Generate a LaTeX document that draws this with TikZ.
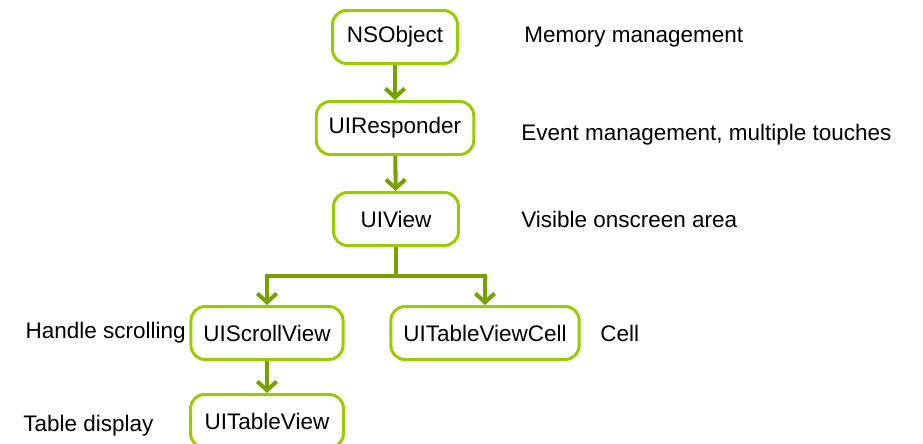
\documentclass[tikz,border=0pt]{standalone}
\usepackage{fontspec}
\setmainfont{Liberation Sans}
\usetikzlibrary{arrows.meta,positioning}

\definecolor{boxgreen}{HTML}{99CC00}
\definecolor{arrowgreen}{HTML}{77A000}

\tikzset{
	classbox/.style={draw=boxgreen, line width=1.7pt, rounded corners=8pt, fill=white,
		minimum width=2.5cm, minimum height=1.06cm, inner xsep=0.25cm},
	note/.style={anchor=west, inner sep=0pt},
	inherit/.style={draw=arrowgreen, line width=2.3pt,
		-{Straight Barb[length=5pt, width=11pt, line width=2.3pt]}}
}

\begin{document}
\begin{tikzpicture}[x=0.02cm, y=-0.02cm, font=\fontsize{12.8}{15}\selectfont]
		% Define the size of the picture
		\useasboundingbox (0, 0) rectangle (923, 443);
		
		% Classes
		\node[classbox] (nsobject) at (395, 37) {NSObject};
		\node[classbox] (uiresponder) at (395, 128) {UIResponder};
		\node[classbox] (uiview) at (396, 219) {UIView};
		\node[classbox] (uiscrollview) at (267, 333) {UIScrollView};
		\node[classbox] (uitableviewcell) at (485, 333) {UITableViewCell};
		\node[classbox, minimum width=3.06cm] (uitableview) at (267, 421) {UITableView};
		
		% Inheritance arrows
		\draw[inherit] (nsobject) -- (uiresponder);
		\draw[inherit] (uiresponder) -- (uiview);
		\coordinate (fork) at (396, 276);
		\draw[inherit] (uiview) -- (fork) -| (uiscrollview);
		\draw[inherit] (fork) -| (uitableviewcell);
		\draw[inherit] (uiscrollview) -- (uitableview);
		
		% Text
		\begin{scope}
			\node[note] (memory) at (524, 37) {Memory management};
			\node[note] (event) at (521, 135) {Event management, multiple touches};
			\node[note] (visible) at (521, 219) {Visible onscreen area};
			\node[note, anchor=east] (scrolling) at (186, 333) {Handle scrolling};
			\node[note] (cell) at (600, 333) {Cell};
			\node[note] (display) at (23, 426) {Table display};
		\end{scope}
	\end{tikzpicture}
\end{document}
